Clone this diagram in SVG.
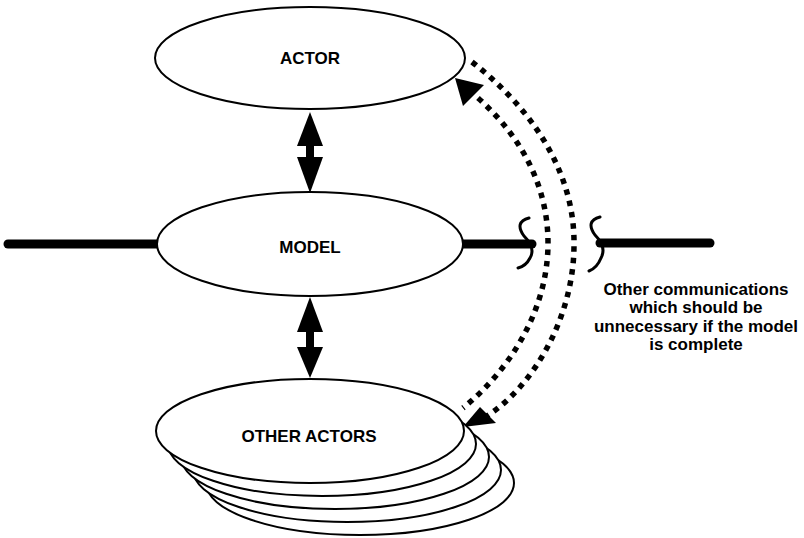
<svg xmlns="http://www.w3.org/2000/svg" width="804" height="538" viewBox="0 0 804 538">
<style>
.node{fill:#fff;stroke:#000;stroke-width:2}
.lbl{font-family:"Liberation Sans",Arial,Helvetica,sans-serif;font-weight:bold;font-size:17px;fill:#000;text-anchor:middle}
.thick{stroke:#000;stroke-width:9;stroke-linecap:round;fill:none}
.brk{stroke:#000;stroke-width:3;fill:none;stroke-linecap:round}
.dot{stroke:#000;stroke-width:5.5;fill:none;stroke-dasharray:5.5 6}
.head{fill:#000}
</style>
<rect width="804" height="538" fill="#fff"/>
<g id="connectors">
<line class="thick" x1="8" y1="244" x2="157" y2="244"/>
<line class="thick" x1="463" y1="244" x2="532" y2="244"/>
<path class="brk" d="M529 218 Q514 222 524 236 Q536 248 530 258 Q526 266 518 268"/>
<path class="brk" d="M600 217 Q585 221 595 235 Q607 247 601 258 Q597 268 589 271"/>
<line class="thick" x1="600" y1="243" x2="710" y2="243"/>
<polygon class="head" points="310,112 323,146 297,146"/>
<rect class="head" x="306" y="145" width="8" height="13"/>
<polygon class="head" points="297,157 323,157 310,193"/>
<polygon class="head" points="310,297 323,332 297,332"/>
<rect class="head" x="306" y="331" width="8" height="17"/>
<polygon class="head" points="297,347 323,347 310,378"/>
<path class="dot" d="M472 62 C540 115 575 180 574 245 C574 315 535 385 487 416"/>
<polygon class="head" points="463,427 480,407 496,423"/>
<path class="dot" d="M478 98 C525 140 548 190 548 243 C548 310 510 370 463 408"/>
<polygon class="head" points="455,78 463,106 484,85"/>
</g>
<g id="actor">
<ellipse class="node" cx="310" cy="58" rx="155" ry="51"/>
<text class="lbl" x="310" y="64">ACTOR</text>
</g>
<g id="model">
<ellipse class="node" cx="310" cy="244" rx="153" ry="52"/>
<text class="lbl" x="310" y="253">MODEL</text>
</g>
<g id="other-actors">
<ellipse class="node" cx="360" cy="483" rx="154" ry="52"/>
<ellipse class="node" cx="347" cy="470" rx="154" ry="52"/>
<ellipse class="node" cx="335" cy="457" rx="154" ry="52"/>
<ellipse class="node" cx="322" cy="444" rx="154" ry="52"/>
<ellipse class="node" cx="310" cy="431" rx="154" ry="52"/>
<text class="lbl" x="309" y="442">OTHER ACTORS</text>
</g>
<g id="note">
<text class="lbl" x="696" y="295">Other communications</text>
<text class="lbl" x="696" y="313">which should be</text>
<text class="lbl" x="696" y="332">unnecessary if the model</text>
<text class="lbl" x="696" y="350">is complete</text>
</g>
</svg>
